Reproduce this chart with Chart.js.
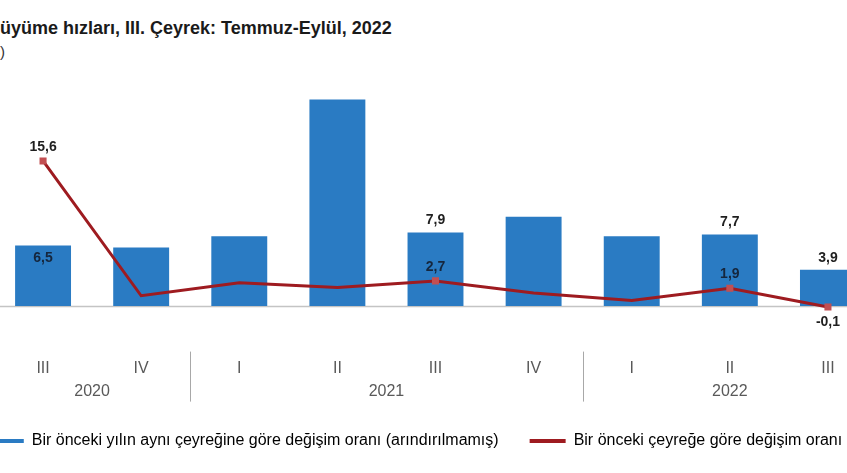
<!DOCTYPE html>
<html>
<head>
<meta charset="utf-8">
<script src="https://cdn.jsdelivr.net/npm/chart.js@4/dist/chart.umd.min.js"></script>
<style>
  html, body { margin: 0; padding: 0; background: #ffffff; overflow: hidden; width: 847px; height: 473px; }
  #title { position: absolute; left: 0px; top: 18px; font: bold 18px 'Liberation Sans', Arial, sans-serif; color: #1a1a1a; white-space: nowrap; }
  #sub { position: absolute; left: 0px; top: 43px; font: 15px 'Liberation Sans', Arial, sans-serif; color: #333; }
  #wrap { position: absolute; left: -52px; top: 0px; width: 934px; height: 473px; }
</style>
</head>
<body>
<div id="title">üyüme hızları, III. Çeyrek: Temmuz-Eylül, 2022</div>
<div id="sub">)</div>
<div id="wrap"><canvas id="c" width="934" height="473"></canvas></div>
<script>
// ---- data ----
const quarters = ['III', 'IV', 'I', 'II', 'III', 'IV', 'I', 'II', 'III'];
const years = ['2020', '2021', '2022'];
const yearGroupSizes = [2, 4, 3];
const annualGrowth = [6.5, 6.3, 7.5, 22.2, 7.9, 9.6, 7.5, 7.7, 3.9];
const quarterlyGrowth = [15.6, 1.1, 2.5, 2.0, 2.7, 1.4, 0.6, 1.9, -0.1];
const annualLabelIdx = [0, 4, 7, 8];
const quarterlyLabelIdx = [0, 4, 7, 8];
const seriesNames = [
  'Bir önceki yılın aynı çeyreğine göre değişim oranı (arındırılmamış)',
  'Bir önceki çeyreğe göre değişim oranı'
];

const BLUE = '#2a7bc3';
const RED = '#9e1b20';
const MARK = '#c24f52';
const TICKFONT = "'Liberation Sans', Arial, sans-serif";
const fmt = v => v.toFixed(1).replace('.', ',');

const decor = {
  id: 'decor',
  beforeDatasetsDraw(chart) {
    const {ctx, chartArea, scales: {y}} = chart;
    const y0 = Math.round(y.getPixelForValue(0)) + 0.5;
    ctx.save();
    ctx.strokeStyle = '#c4c4c4';
    ctx.lineWidth = 1.5;
    ctx.beginPath();
    ctx.moveTo(chartArea.left, y0);
    ctx.lineTo(chartArea.right, y0);
    ctx.stroke();
    ctx.restore();
  },
  afterDatasetsDraw(chart) {
    const {ctx, chartArea, scales: {x}} = chart;
    ctx.save();
    // data labels
    ctx.font = "bold 14px 'Liberation Sans', Arial, sans-serif";
    ctx.textAlign = 'center';
    ctx.textBaseline = 'middle';
    const barMeta = chart.getDatasetMeta(0);
    annualLabelIdx.forEach(i => {
      const el = barMeta.data[i];
      const inside = i === 0;
      ctx.fillStyle = inside ? '#15263d' : '#1f1f1f';
      ctx.fillText(fmt(annualGrowth[i]), el.x, inside ? el.y + 13 : el.y - 12);
    });
    const lineMeta = chart.getDatasetMeta(1);
    quarterlyLabelIdx.forEach(i => {
      const el = lineMeta.data[i];
      const below = quarterlyGrowth[i] < 0;
      ctx.fillStyle = (i === 4 || i === 7) ? '#15263d' : '#1f1f1f';
      ctx.fillText(fmt(quarterlyGrowth[i]), el.x, below ? el.y + 15 : el.y - 14);
    });
    // year group labels and separators
    ctx.font = "16px " + TICKFONT;
    ctx.fillStyle = '#595959';
    let start = 0;
    yearGroupSizes.forEach((n, g) => {
      const a = x.getPixelForValue(start);
      const b = x.getPixelForValue(start + n - 1);
      ctx.fillText(years[g], (a + b) / 2, chartArea.bottom + 67.4);
      if (g > 0) {
        const sx = Math.round((x.getPixelForValue(start - 1) + a) / 2) + 0.5;
        ctx.strokeStyle = '#a8a8a8';
        ctx.lineWidth = 1;
        ctx.beginPath();
        ctx.moveTo(sx, chartArea.bottom + 27);
        ctx.lineTo(sx, chartArea.bottom + 77);
        ctx.stroke();
      }
      start += n;
    });
    ctx.restore();
  }
};

new Chart(document.getElementById('c'), {
  data: {
    labels: quarters,
    datasets: [
      {
        type: 'bar',
        label: seriesNames[0],
        data: annualGrowth,
        backgroundColor: BLUE,
        categoryPercentage: 1,
        barPercentage: 0.57,
        order: 1
      },
      {
        type: 'line',
        label: seriesNames[1],
        data: quarterlyGrowth,
        borderColor: RED,
        borderWidth: 3,
        tension: 0,
        pointStyle: 'rect',
        pointRadius: c => quarterlyLabelIdx.includes(c.dataIndex) ? 5 : 0,
        pointBackgroundColor: MARK,
        pointBorderColor: MARK,
        pointBorderWidth: 0,
        order: 0
      }
    ]
  },
  options: {
    responsive: false,
    animation: false,
    devicePixelRatio: 1,
    layout: { padding: { left: 0, right: 0, top: 82.8, bottom: 14 } },
    scales: {
      x: {
        offset: true,
        grid: { display: false, drawTicks: false },
        border: { display: false },
        ticks: { padding: 34.3, color: '#595959', font: { family: TICKFONT, size: 16 }, maxRotation: 0, autoSkip: false },
        afterFit: s => { s.height = 77.4; }
      },
      y: {
        position: 'left',
        min: -2, max: 24,
        grid: { display: false, drawTicks: false },
        border: { display: false },
        ticks: { display: false },
        afterFit: s => { s.width = 46; }
      }
    },
    plugins: {
      tooltip: { enabled: false },
      legend: {
        position: 'bottom',
        labels: {
          boxWidth: 36,
          boxHeight: 4,
          padding: 31,
          color: '#333333',
          font: { family: "'Liberation Sans', Arial, sans-serif", size: 16 },
          generateLabels: chart => chart.data.datasets.map((d, i) => ({
            text: d.label,
            fillStyle: i === 0 ? BLUE : RED,
            strokeStyle: i === 0 ? BLUE : RED,
            lineWidth: 0,
            hidden: false,
            datasetIndex: i
          }))
        }
      }
    }
  },
  plugins: [decor]
});
</script>
</body>
</html>
